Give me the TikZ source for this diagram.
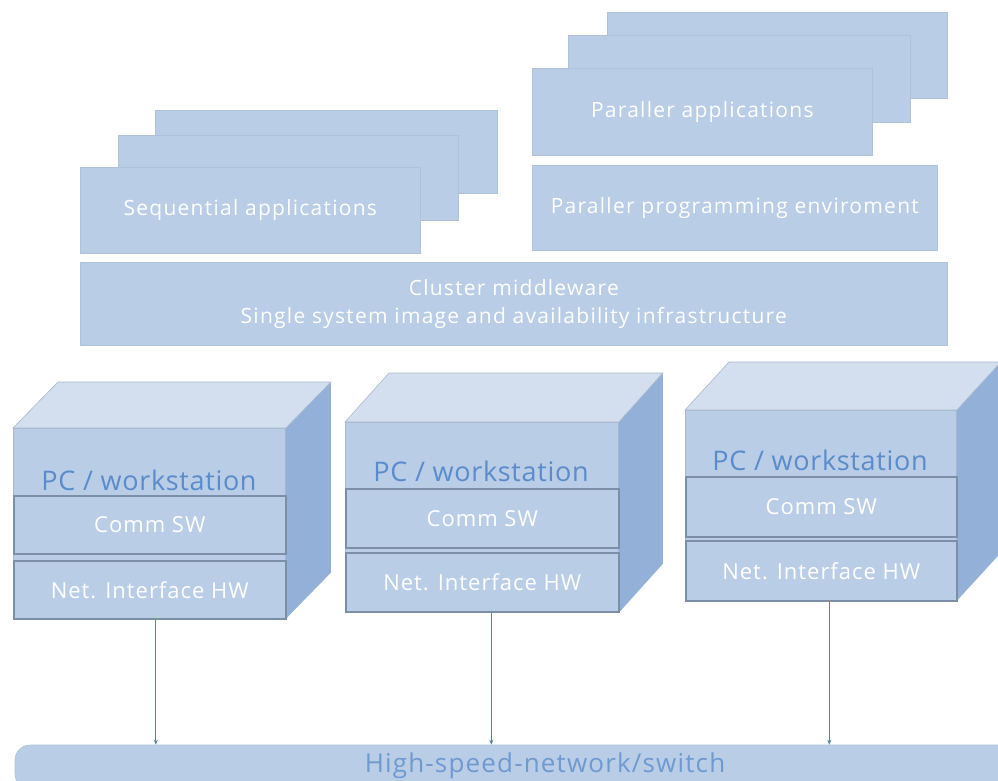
\documentclass[tikz,border=0pt]{standalone}
\usepackage{fontspec}
\setmainfont{Open Sans}
\usetikzlibrary{arrows.meta}
\definecolor{boxfill}{HTML}{B9CDE6}
\definecolor{appedge}{HTML}{B0C2D8}
\definecolor{topface}{HTML}{D3DFEE}
\definecolor{sideface}{HTML}{93B1D8}
\definecolor{frontedge}{HTML}{A8B9CE}
\definecolor{layeredge}{HTML}{7C8FA6}
\definecolor{pcblue}{HTML}{5A8CCB}
\definecolor{netblue}{HTML}{6F9AD0}
\definecolor{connblue}{HTML}{5680B6}
\begin{document}
\begin{tikzpicture}[x=1pt,y=-1pt,
  sz/.style 2 args={minimum width=#1, minimum height=#2},
  app/.style={fill=boxfill, draw=appedge, line width=0.6pt, inner sep=0pt, anchor=north west, text=white, font=\fontsize{21}{28}\selectfont\addfontfeatures{LetterSpace=6}},
  front/.style={fill=boxfill, draw=frontedge, line width=0.8pt, inner sep=0pt, anchor=north west},
  layer/.style={fill=boxfill, draw=layeredge, line width=1.6pt, inner sep=0pt, anchor=north west, text=white, font=\fontsize{22}{26}\selectfont\addfontfeatures{LetterSpace=4.5}},
  pclabel/.style={text=pcblue, font=\fontsize{27}{30}\selectfont\addfontfeatures{LetterSpace=2.5}, inner sep=0pt, anchor=base},
  topf/.style={fill=topface, draw=frontedge, line width=0.6pt},
  sidef/.style={fill=sideface},
  conn/.style={draw=connblue, line width=0.8pt, -{Stealth[length=5pt,width=4pt]}},
  netband/.style={fill=boxfill, draw=appedge, line width=0.6pt, rounded corners=15pt, inner sep=0pt}
]
\useasboundingbox (0,0) rectangle (998,781);

% Sequential applications stack
\node[app, sz={342pt}{83pt}] (seqc) at (155,110) {};
\node[app, sz={340pt}{85pt}] (seqb) at (118,135) {};
\node[app, sz={340pt}{86pt}] (seqa) at (80,167) {Sequential applications};

% Parallel applications stack
\node[app, sz={340pt}{86pt}] (parc) at (607,12) {};
\node[app, sz={342pt}{87pt}] (parb) at (568,35) {};
\node[app, sz={340pt}{87pt}] (para) at (532,68) {Paraller applications};
\node[app, sz={405pt}{85pt}] (penv) at (532,165) {Paraller programming enviroment};

% Cluster middleware
\node[app, sz={867pt}{83pt}, align=center] (mw) at (80,262) {Cluster middleware\\Single system image and availability infrastructure};

% PC 1
\node[front, sz={272pt}{190pt}] (pc1) at (13,428) {};
\fill[sidef] (pc1.north east) -- ++(45,-46) -- ([shift={(45,-46)}]pc1.south east) -- (pc1.south east) -- cycle;
\filldraw[topf] (pc1.north west) -- ++(45,-46) -- ([shift={(45,-46)}]pc1.north east) -- (pc1.north east) -- cycle;
\node[layer, sz={272pt}{58pt}] (cs1) at (13,495) {Comm SW};
\node[layer, sz={272pt}{58pt}] (ni1) at (13,560) {Net. Interface HW};
\node[pclabel] (lb1) at (149,490) {PC / workstation};

% PC 2
\node[front, sz={273pt}{190pt}] (pc2) at (345,422) {};
\fill[sidef] (pc2.north east) -- ++(44,-49) -- ([shift={(44,-49)}]pc2.south east) -- (pc2.south east) -- cycle;
\filldraw[topf] (pc2.north west) -- ++(44,-49) -- ([shift={(44,-49)}]pc2.north east) -- (pc2.north east) -- cycle;
\node[layer, sz={273pt}{59pt}] (cs2) at (345,488) {Comm SW};
\node[layer, sz={273pt}{59pt}] (ni2) at (345,552) {Net. Interface HW};
\node[pclabel] (lb2) at (481,481) {PC / workstation};

% PC 3
\node[front, sz={271pt}{190pt}] (pc3) at (685,410) {};
\fill[sidef] (pc3.north east) -- ++(44,-48) -- ([shift={(44,-48)}]pc3.south east) -- (pc3.south east) -- cycle;
\filldraw[topf] (pc3.north west) -- ++(44,-48) -- ([shift={(44,-48)}]pc3.north east) -- (pc3.north east) -- cycle;
\node[layer, sz={271pt}{60pt}] (cs3) at (685,476) {Comm SW};
\node[layer, sz={271pt}{60pt}] (ni3) at (685,540) {Net. Interface HW};
\node[pclabel] (lb3) at (820,470) {PC / workstation};

% Network
\node[netband, sz={1070pt}{44pt}] (net) at (550,767) {};
\node[text=netblue, font=\fontsize{26}{30}\selectfont\addfontfeatures{LetterSpace=4.5}, inner sep=0pt] (nettxt) at (545,766) {High-speed-network/switch};

% Connectors
\draw[conn] ([xshift=6pt]ni1.south) -- ([xshift=6pt]ni1.south |- net.north);
\draw[conn] ([xshift=9pt]ni2.south) -- ([xshift=9pt]ni2.south |- net.north);
\draw[conn] ([xshift=8pt]ni3.south) -- ([xshift=8pt]ni3.south |- net.north);
\end{tikzpicture}
\end{document}
